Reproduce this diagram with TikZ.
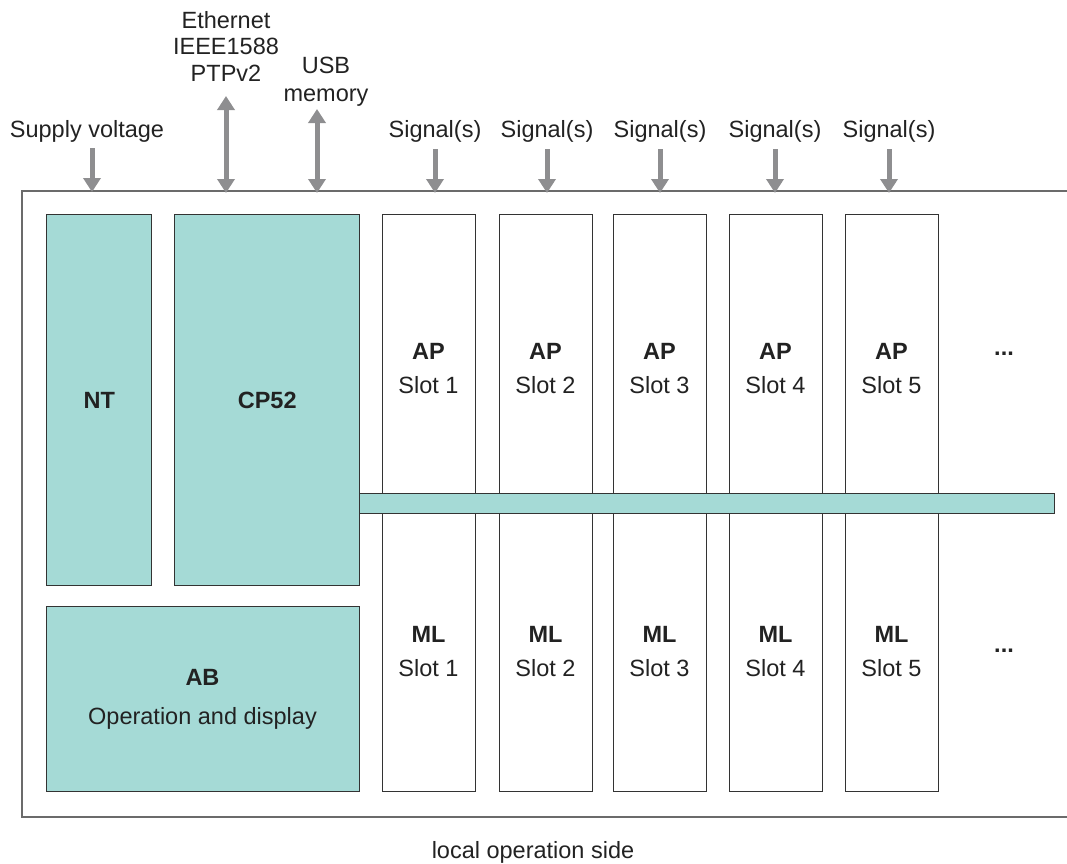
\documentclass[tikz,border=0pt]{standalone}
\usepackage{fontspec}
\setmainfont{Liberation Sans}
\usetikzlibrary{arrows.meta}
\definecolor{teal}{HTML}{A5DAD6}
\definecolor{arrgray}{HTML}{8E8E90}
\definecolor{framegray}{HTML}{6B6B6B}
\definecolor{boxline}{HTML}{333333}
\definecolor{txt}{HTML}{222222}
\begin{document}
\begin{tikzpicture}[x=1pt,y=-1pt,
  font=\fontsize{23.5}{27}\selectfont, text=txt,
  bfnt/.style={font=\fontsize{23.5}{27}\selectfont\bfseries},
  module/.style={draw=boxline, line width=1.4pt, fill=teal, inner sep=0pt, anchor=north west},
  slotbox/.style={draw=boxline, line width=1.4pt, fill=white, inner sep=0pt, anchor=north west, minimum width=93pt, minimum height=577pt},
  sig/.style={draw=arrgray, line width=5pt, -{Triangle[width=17pt,length=14pt]}},
  bisig/.style={draw=arrgray, line width=5pt, {Triangle[width=17pt,length=14pt]}-{Triangle[width=17pt,length=14pt]}},
  lbl/.style={align=center, inner sep=0pt}
]
\useasboundingbox (0,0) rectangle (1067,863);
% outer frame (open to the right)
\draw[framegray, line width=1.8pt] (1067,191) -- (22,191) -- (22,817) -- (1067,817);

% modules
\node[module, minimum width=105pt, minimum height=371pt] (NT) at (46,214) {};
\node[bfnt] (NTt) at (NT.center) {NT};
\node[module, minimum width=185pt, minimum height=371pt] (CP) at (174,214) {};
\node[bfnt] (CPt) at (CP.center) {CP52};
\node[module, minimum width=313pt, minimum height=185pt] (AB) at (46,606) {};
\node[lbl, bfnt] (ABt) at (202.5,677) {AB};
\node[lbl] (ABd) at (202.5,718) {Operation and display};

% slots
\foreach \i/\x in {1/382,2/499,3/613,4/729,5/845}{
  \node[slotbox] (S\i) at (\x,214) {};
  \node[lbl, bfnt] (AP\i) at (\x+46.5,351) {AP};
  \node[lbl] (APs\i) at (\x+46.5,385) {Slot \i};
  \node[lbl, bfnt] (ML\i) at (\x+46.5,634) {ML};
  \node[lbl] (MLs\i) at (\x+46.5,668) {Slot \i};
}
\node[lbl, bfnt] (dots1) at (1004,354) {...};
\node[lbl, bfnt] (dots2) at (1004,651) {...};

% bus bar
\node[module, minimum width=695pt, minimum height=20pt] (bus) at (359,493) {};

% top labels
\node[lbl] (supply) at (87,131) {Supply voltage};
\node[lbl, font=\fontsize{23.5}{26.5}\selectfont] (eth) at (226,46) {Ethernet\\IEEE1588\\PTPv2};
\node[lbl, font=\fontsize{23.5}{28}\selectfont] (usb) at (326,82) {USB\\memory};
\foreach \i/\x in {1/435,2/547,3/660,4/775,5/889}{
  \node[lbl] (sl\i) at (\x,131) {Signal(s)};
  \coordinate (st\i) at (\x,149);
  \coordinate (se\i) at (\x,193);
  \draw[sig] (st\i) -- (se\i);
}
\coordinate (sup1) at (92,148);
\coordinate (sup2) at (92,192);
\draw[sig] (sup1) -- (sup2);
\coordinate (eth1) at (226,96);
\coordinate (eth2) at (226,193);
\draw[bisig] (eth1) -- (eth2);
\coordinate (usb1) at (317,109);
\coordinate (usb2) at (317,193);
\draw[bisig] (usb1) -- (usb2);

\node[lbl] (local) at (533,852) {local operation side};
\end{tikzpicture}
\end{document}
